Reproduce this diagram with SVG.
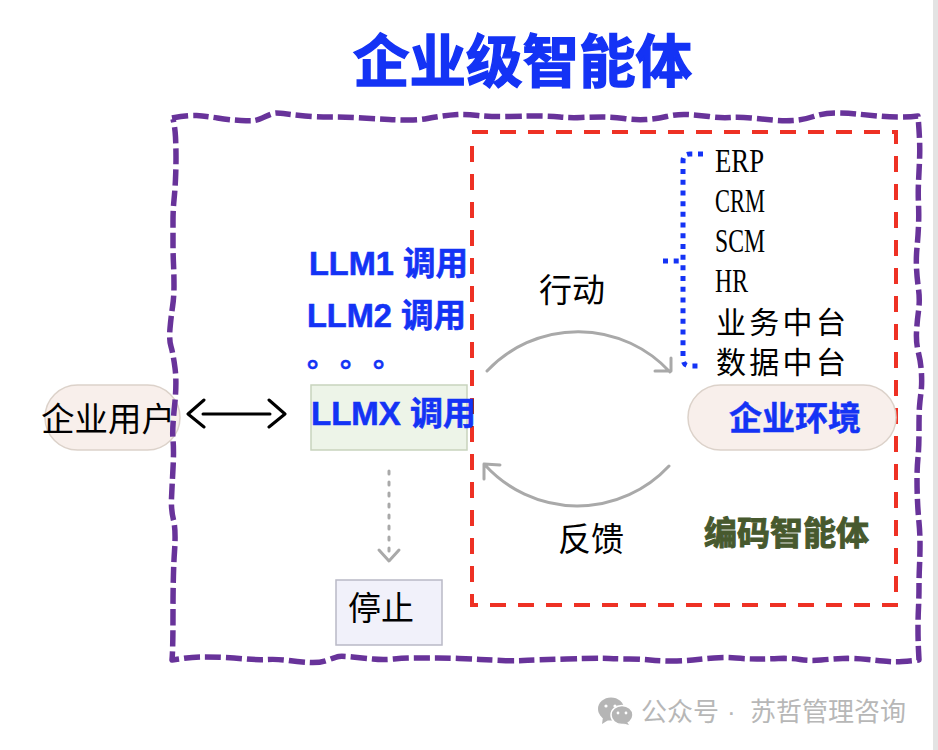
<svg xmlns="http://www.w3.org/2000/svg" width="938" height="750" viewBox="0 0 938 750">
<style>
text{font-family:"Noto Sans CJK SC","Noto Sans",sans-serif;fill:#000}
.lat{font-family:"Liberation Sans","Noto Sans CJK SC",sans-serif;font-weight:700;fill:#1433f5;stroke:#1433f5;stroke-width:.6}
.blue{font-weight:700;fill:#1433f5;stroke:#1433f5;stroke-width:.5}
.ser{font-family:"Liberation Serif",serif;font-size:34px}
.sys{font-size:30px;letter-spacing:3.3px}
.lab{font-size:33px}
.pill{fill:#f8efeb;stroke:#dcd2ca;stroke-width:1.5}
.red{fill:none;stroke:#ee3124;stroke-width:4;stroke-dasharray:16 12}
.gr{fill:none;stroke:#a9a9a9;stroke-width:3;stroke-linecap:round;stroke-linejoin:round}
.bk{fill:none;stroke:#000;stroke-width:3;stroke-linecap:round;stroke-linejoin:round}
.bd{fill:none;stroke:#1433f5;stroke-width:5;stroke-dasharray:5 5.7}
</style>
<rect width="938" height="750" fill="#fff"/>
<rect x="933" y="0" width="5" height="750" fill="#e3e3e3"/>
<g id="title"><text x="353" y="82" font-size="56.5" class="blue" style="stroke-width:1.4">企业级智能体</text></g>
<g id="user-node"><rect class="pill" x="45" y="385" width="135" height="65" rx="32.5"/></g>
<g id="agent-boundary">
<path fill="none" stroke="#68339a" stroke-width="5.5" stroke-dasharray="16 5" stroke-linejoin="round" d="M172 118Q188 115 196.5 115.5Q205 116 217.5 118Q230 120 241 120.5Q252 121 255 120.5Q258 120 265.5 116.5Q273 113 276 113Q279 113 287 114Q295 115 305 116Q315 117 330 117Q345 117 362.5 118Q380 119 389 119.5Q398 120 409 120Q420 120 427.5 118.5Q435 117 442.5 116Q450 115 457.5 114.5Q465 114 478 115.5Q491 117 509.5 116.5Q528 116 539 116Q550 116 560 117Q570 118 581 117.5Q592 117 602.5 117Q613 117 624 118.5Q635 120 645.5 119.5Q656 119 666.5 116.5Q677 114 687.5 114.5Q698 115 709 116.5Q720 118 730 117.5Q740 117 751 118Q762 119 772.5 120Q783 121 793 120.5Q803 120 813.5 116.5Q824 113 835.5 113Q847 113 857 114Q867 115 877.5 116Q888 117 899 117Q910 117 918 116Q919 128 919.5 139Q920 150 919.5 161Q919 172 918.5 182.5Q918 193 918.5 204Q919 215 918.5 226Q918 237 917 247.5Q916 258 916.5 268Q917 278 918.5 289Q920 300 918.5 311Q917 322 916.5 332.5Q916 343 918.5 353Q921 363 921.5 374Q922 385 921 392.5Q920 400 919.5 406.5Q919 413 919 430Q919 447 918 457.5Q917 468 917 479Q917 490 917.5 501Q918 512 919 522.5Q920 533 920 544Q920 555 919.5 566Q919 577 919 587Q919 597 918.5 607.5Q918 618 918 629Q918 640 918.5 650L919 660Q910 661 902.5 661.5Q895 662 889 661.5Q883 661 868 659.5Q853 658 842.5 658.5Q832 659 821 660Q810 661 800 659.5Q790 658 778.5 658.5Q767 659 757 659Q747 659 736 658Q725 657 714 658Q703 659 693 660Q683 661 671.5 661Q660 661 650 660Q640 659 629 659Q618 659 609 658.5Q600 658 566.5 659Q533 660 523 660.5Q513 661 501.5 660.5Q490 660 480 659.5Q470 659 459 658.5Q448 658 437.5 658Q427 658 416 658Q405 658 394 659Q383 660 373 659Q363 658 352.5 657Q342 656 339 656.5Q336 657 328 660Q320 663 310 662.5Q300 662 289 660.5Q278 659 267.5 659.5Q257 660 246 659Q235 658 224 657.5Q213 657 203 657Q193 657 182.5 658.5L172 660Q173 650 173 611.5Q173 573 174.5 551.5Q176 530 173.5 520Q171 510 171.5 498.5Q172 487 173 468.5Q174 450 173 440Q172 430 174.5 406.5Q177 383 175 368Q173 353 171 346.5Q169 340 170 328.5Q171 317 172.5 307Q174 297 174 286Q174 275 173.5 264Q173 253 173 243Q173 233 173 221.5Q173 210 174 200Q175 190 175.5 179Q176 168 176 157.5Q176 147 175.5 137Q175 127 173 119"/>
</g>
<g id="coding-agent-boundary">
<path class="red" d="M472 132H896"/>
<path class="red" stroke-dashoffset="2" d="M896 130V605"/>
<path class="red" d="M898 605H470"/>
<path class="red" d="M472 146V607"/>
</g>
<g id="connectors">
<path class="bk" d="M203 414H270M204 400 188 414 204 427M269 400 285 414 269 427"/>
<path class="gr" stroke-dasharray="3 8" d="M389 471V552"/>
<path class="gr" d="M379 550 389 561 399 550"/>
<path class="gr" d="M487 371A125 125 0 0 1 670 372M655 371H671V358"/>
<path class="gr" d="M669 466A125 125 0 0 1 485 465M500 465 484 464V479"/>
<path class="bd" d="M703 154H690Q683 154 683 161V358Q683 366 690 366H703"/>
<path class="bd" d="M663 261H683"/>
</g>
<g id="llm-x"><rect x="311" y="385" width="156" height="65" fill="#edf4e8" stroke="#c8d3bd" stroke-width="1.5"/>
<text class="lat" font-size="33" x="311" y="425">LLMX 调用</text></g>
<g id="llm-1"><text class="lat" font-size="32.5" x="309" y="275">LLM1 调用</text></g>
<g id="llm-2"><text class="lat" font-size="32.5" x="307" y="327">LLM2 调用</text></g>
<g id="llm-dots"><text class="blue" font-size="29" x="307 340 373" y="367">。。。</text></g>
<g id="user-label"><text class="lab" style="font-size:33.5px" x="41" y="431">企业用户</text></g>
<g id="stop"><rect x="336" y="580" width="106" height="65" fill="#f1f1fa" stroke="#b9b9c6" stroke-width="1.5"/>
<text class="lab" x="348" y="620">停止</text></g>
<g id="action-label"><text class="lab" x="539" y="302">行动</text></g>
<g id="feedback-label"><text class="lab" x="558" y="551">反馈</text></g>
<g id="systems">
<text class="ser" x="715" y="172" textLength="49" lengthAdjust="spacingAndGlyphs">ERP</text>
<text class="ser" x="715" y="212" textLength="50" lengthAdjust="spacingAndGlyphs">CRM</text>
<text class="ser" x="715" y="252" textLength="50" lengthAdjust="spacingAndGlyphs">SCM</text>
<text class="ser" x="715" y="292" textLength="33" lengthAdjust="spacingAndGlyphs">HR</text>
<text class="sys" x="716" y="333">业务中台</text>
<text class="sys" x="716" y="373">数据中台</text>
</g>
<g id="env"><rect class="pill" x="688" y="385" width="208" height="65" rx="32.5"/>
<text class="blue" font-size="33" x="729" y="430">企业环境</text></g>
<g id="coding-agent-label"><text font-size="33" x="704" y="545" font-weight="700" style="fill:#47592e;stroke:#47592e;stroke-width:1">编码智能体</text></g>
<g id="watermark">
<ellipse cx="611" cy="709" rx="13" ry="11.5" fill="#b5b5b5"/>
<path d="M603 717 602 724 610 719Z" fill="#b5b5b5"/>
<ellipse cx="622" cy="715" rx="11" ry="9.5" fill="#b5b5b5" stroke="#fff" stroke-width="1.5"/>
<path d="M627 722 629 725 622 723Z" fill="#b5b5b5"/>
<circle cx="606" cy="706" r="1.6" fill="#fff"/><circle cx="615" cy="706" r="1.6" fill="#fff"/>
<circle cx="618" cy="713" r="1.4" fill="#fff"/><circle cx="626" cy="713" r="1.4" fill="#fff"/>
<text y="721" font-size="26" style="fill:#b7b7b7"><tspan x="641">公众号</tspan><tspan x="727" style="font-family:'Liberation Sans',sans-serif">·</tspan><tspan x="750">苏哲管理咨询</tspan></text>
</g>
</svg>
